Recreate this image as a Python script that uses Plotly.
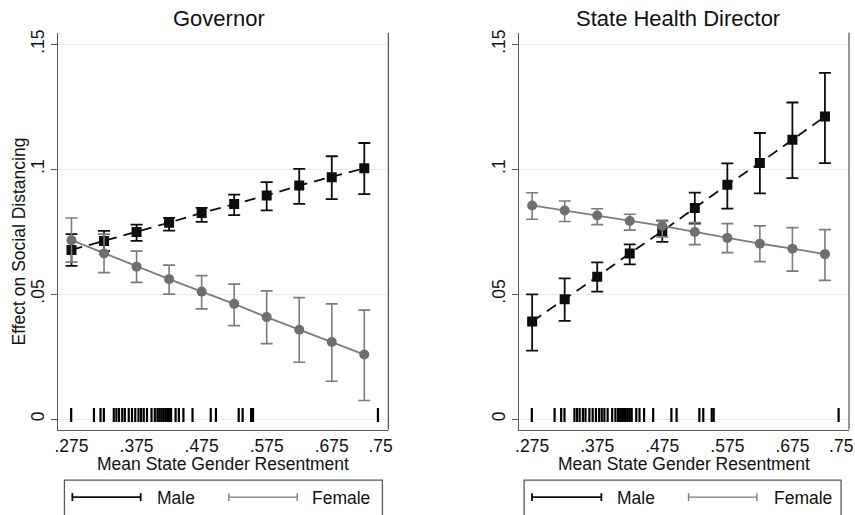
import plotly.graph_objects as go

# ---------------- data ----------------
x_vals = [0.275, 0.325, 0.375, 0.425, 0.475, 0.525, 0.575, 0.625, 0.675, 0.725]

gov_male = [0.0677, 0.0713, 0.0749, 0.0786, 0.0825, 0.0861, 0.0895, 0.0935, 0.0968, 0.1004]
gov_male_hi = [0.0740, 0.0753, 0.0778, 0.0805, 0.0845, 0.0898, 0.0948, 0.1001, 0.1052, 0.1105]
gov_male_lo = [0.0613, 0.0672, 0.0713, 0.0754, 0.0789, 0.0816, 0.0835, 0.0861, 0.0880, 0.0900]

gov_female = [0.0716, 0.0663, 0.0610, 0.0560, 0.0510, 0.0461, 0.0408, 0.0357, 0.0308, 0.0258]
gov_female_hi = [0.0805, 0.0740, 0.0672, 0.0616, 0.0574, 0.0540, 0.0513, 0.0486, 0.0461, 0.0436]
gov_female_lo = [0.0628, 0.0586, 0.0547, 0.0500, 0.0441, 0.0374, 0.0302, 0.0227, 0.0151, 0.0074]

shd_male = [0.0390, 0.0479, 0.0570, 0.0663, 0.0752, 0.0845, 0.0938, 0.1025, 0.1118, 0.1211]
shd_male_hi = [0.0499, 0.0563, 0.0627, 0.0699, 0.0794, 0.0906, 0.1023, 0.1145, 0.1267, 0.1386]
shd_male_lo = [0.0274, 0.0393, 0.0510, 0.0619, 0.0709, 0.0782, 0.0842, 0.0903, 0.0964, 0.1024]

shd_female = [0.0855, 0.0835, 0.0815, 0.0793, 0.0773, 0.0749, 0.0725, 0.0702, 0.0682, 0.0660]
shd_female_hi = [0.0906, 0.0873, 0.0842, 0.0820, 0.0795, 0.0786, 0.0782, 0.0773, 0.0766, 0.0758]
shd_female_lo = [0.0800, 0.0791, 0.0778, 0.0756, 0.0729, 0.0698, 0.0666, 0.0630, 0.0592, 0.0555]

# rug: observed state means of gender resentment
rug_x = [0.2745, 0.3095, 0.3196, 0.3247, 0.340, 0.344, 0.348, 0.353, 0.357, 0.363,
         0.368, 0.373, 0.378, 0.382, 0.386, 0.391, 0.398, 0.403, 0.407, 0.410,
         0.413, 0.416, 0.419, 0.422, 0.425, 0.428, 0.435, 0.440, 0.447, 0.461,
         0.489, 0.497, 0.532, 0.538, 0.551, 0.554, 0.746]
rug_y_level = 0.0016

x_tickvals = [0.275, 0.375, 0.475, 0.575, 0.675, 0.75]
x_ticktext = [".275", ".375", ".475", ".575", ".675", ".75"]
y_tickvals = [0, 0.05, 0.1, 0.15]
y_ticktext = ["0", ".05", ".1", ".15"]

panel_titles = ["Governor", "State Health Director"]
x_title = "Mean State Gender Resentment"
y_title = "Effect on Social Distancing"
legend_labels = ["Male", "Female"]

# ---------------- style ----------------
W, H = 855, 515
FONT = "Liberation Sans, Arial, Helvetica, sans-serif"
TXT = "#111111"
AX = "#595959"
GRID = "#ebebeb"
MALE_C = "#0d0d0d"
FEM_C = "#6f6f6f"
FEM_LINE = "#7c7c7c"


def px_x(p):
    return p / W


def px_y(p):
    return 1 - p / H


fig = go.Figure()

panels = [
    ("x", "y", gov_male, gov_male_hi, gov_male_lo, gov_female, gov_female_hi, gov_female_lo),
    ("x2", "y2", shd_male, shd_male_hi, shd_male_lo, shd_female, shd_female_hi, shd_female_lo),
]

for xa, ya, m, mh, ml, f, fh, fl in panels:
    # rug
    fig.add_trace(go.Scatter(
        x=rug_x, y=[rug_y_level] * len(rug_x), xaxis=xa, yaxis=ya, mode="markers",
        marker=dict(symbol="line-ns", size=10, line=dict(width=2.2, color="#000")),
        showlegend=False, hoverinfo="skip"))
    # male
    fig.add_trace(go.Scatter(
        x=x_vals, y=m, xaxis=xa, yaxis=ya, mode="lines+markers",
        line=dict(color=MALE_C, width=1.8, dash="11px,7px"),
        marker=dict(symbol="square", size=10, color=MALE_C),
        error_y=dict(type="data", symmetric=False,
                     array=[h - v for h, v in zip(mh, m)],
                     arrayminus=[v - l for l, v in zip(ml, m)],
                     color=MALE_C, thickness=1.8, width=6),
        showlegend=False))
    # female
    fig.add_trace(go.Scatter(
        x=x_vals, y=f, xaxis=xa, yaxis=ya, mode="lines+markers",
        line=dict(color=FEM_LINE, width=1.8),
        marker=dict(symbol="circle", size=10, color=FEM_C),
        error_y=dict(type="data", symmetric=False,
                     array=[h - v for h, v in zip(fh, f)],
                     arrayminus=[v - l for l, v in zip(fl, f)],
                     color=FEM_LINE, thickness=1.6, width=6),
        showlegend=False))

# axes
dom_x1 = [px_x(55), px_x(388)]
dom_x2 = [px_x(520), px_x(853)]
dom_y = [px_y(429), px_y(30)]

xcommon = dict(range=[0.255, 0.762], tickvals=x_tickvals, ticktext=x_ticktext,
               showgrid=False, zeroline=False, showline=True, linecolor=AX, linewidth=1.3,
               ticks="", tickfont=dict(family=FONT, size=17.5, color=TXT))
ycommon = dict(range=[-0.0042, 0.1546], tickvals=y_tickvals, ticktext=y_ticktext,
               showgrid=True, gridcolor=GRID, gridwidth=1, zeroline=False,
               showline=True, linecolor=AX, linewidth=1.3,
               ticks="outside", ticklen=6, tickcolor=AX, tickwidth=1.2, tickangle=-90,
               tickfont=dict(family=FONT, size=17.5, color=TXT))

fig.update_layout(
    xaxis=dict(xcommon, domain=dom_x1, anchor="y"),
    xaxis2=dict(xcommon, domain=dom_x2, anchor="y2"),
    yaxis=dict(ycommon, domain=dom_y, anchor="x"),
    yaxis2=dict(ycommon, domain=dom_y, anchor="x2"),
)

shapes = []
annotations = []
# right border lines of the plot regions
for xr, yr in [("x domain", "y domain"), ("x2 domain", "y2 domain")]:
    shapes.append(dict(type="line", xref=xr, yref=yr, x0=1, x1=1, y0=0, y1=1,
                       line=dict(color=AX, width=1.3)))

# titles
title_x = [217, 680]
xtitle_x = [221.5, 686]
for i in range(2):
    annotations.append(dict(text=panel_titles[i], x=px_x(title_x[i]), y=px_y(16),
                            xref="paper", yref="paper", showarrow=False,
                            xanchor="center", yanchor="middle",
                            font=dict(family=FONT, size=22, color=TXT)))
    annotations.append(dict(text=x_title, x=px_x(xtitle_x[i]), y=px_y(464),
                            xref="paper", yref="paper", showarrow=False,
                            xanchor="center", yanchor="middle",
                            font=dict(family=FONT, size=17.5, color=TXT)))
annotations.append(dict(text=y_title, x=px_x(15), y=px_y(240), xref="paper", yref="paper",
                        showarrow=False, textangle=-90, xanchor="center", yanchor="middle",
                        font=dict(family=FONT, size=17.5, color=TXT)))

# legends (drawn keys)
legend_specs = [
    dict(box=(61, 382), male=(69, 138), male_t=152, fem=(227, 296), fem_t=309),
    dict(box=(525, 845), male=(533, 603), male_t=617, fem=(691, 760), fem_t=775),
]
ly = 497
for spec in legend_specs:
    shapes.append(dict(type="rect", xref="paper", yref="paper",
                       x0=px_x(spec["box"][0]), x1=px_x(spec["box"][1]),
                       y0=px_y(520), y1=px_y(480),
                       line=dict(color=AX, width=1.3), fillcolor="rgba(0,0,0,0)"))
    for key, tx, col, lab in [("male", "male_t", MALE_C, legend_labels[0]),
                               ("fem", "fem_t", FEM_LINE, legend_labels[1])]:
        a, b = spec[key]
        lw = 1.8 if key == "male" else 1.4
        shapes.append(dict(type="line", xref="paper", yref="paper",
                           x0=px_x(a), x1=px_x(b), y0=px_y(ly), y1=px_y(ly),
                           line=dict(color=col, width=lw)))
        for xx in (a, b):
            shapes.append(dict(type="line", xref="paper", yref="paper",
                               x0=px_x(xx), x1=px_x(xx), y0=px_y(ly - 4), y1=px_y(ly + 4),
                               line=dict(color=col, width=lw)))
        annotations.append(dict(text=lab, x=px_x(spec[tx]), y=px_y(ly + 1),
                                xref="paper", yref="paper", showarrow=False,
                                xanchor="left", yanchor="middle",
                                font=dict(family=FONT, size=17.5, color=TXT)))

fig.update_layout(
    width=W, height=H,
    margin=dict(l=0, r=0, t=0, b=0),
    paper_bgcolor="white", plot_bgcolor="white",
    shapes=shapes, annotations=annotations,
    showlegend=False,
)

fig.write_html("out.html", config={"displayModeBar": False},
               post_script="document.body.style.margin='0';document.body.style.padding='0';")
